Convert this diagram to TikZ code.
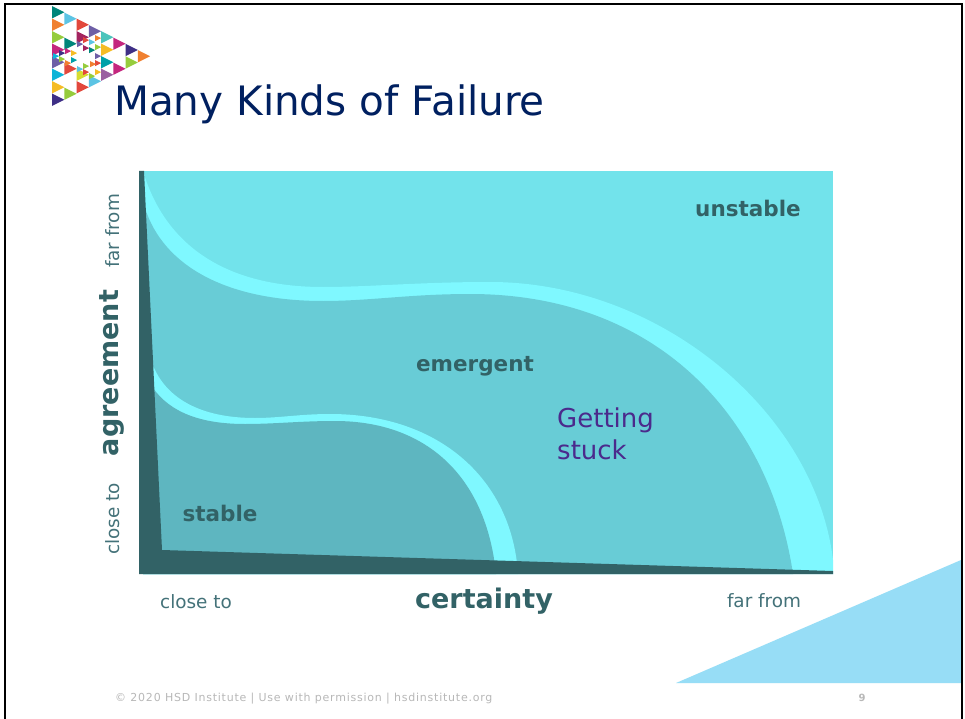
\documentclass[tikz,border=0pt]{standalone}
\usepackage{fontspec}
\setmainfont{DejaVu Sans}
\newfontfamily\footfont[LetterSpace=7]{DejaVu Sans}
\definecolor{navy}{HTML}{002060}
\definecolor{upperzone}{HTML}{72E3EB}
\definecolor{midzone}{HTML}{68CCD6}
\definecolor{lowzone}{HTML}{5EB6C0}
\definecolor{bandzone}{HTML}{7FF8FF}
\definecolor{axisdark}{HTML}{326266}
\definecolor{axislabel}{HTML}{447279}
\definecolor{stuck}{HTML}{4B2A8C}
\definecolor{corner}{HTML}{97DDF6}
\definecolor{footgrey}{HTML}{B8B8B8}
\definecolor{lgteal}{HTML}{00857A}
\definecolor{lgsky}{HTML}{5CC4E4}
\definecolor{lgorange}{HTML}{F08030}
\definecolor{lgred}{HTML}{E2483C}
\definecolor{lglime}{HTML}{96CC3C}
\definecolor{lgmagenta}{HTML}{C4267E}
\definecolor{lgcrimson}{HTML}{A3245F}
\definecolor{lgviolet}{HTML}{6E5FA6}
\definecolor{lgmauve}{HTML}{9A5FA0}
\definecolor{lgcyan}{HTML}{0DB4D8}
\definecolor{lgyellow}{HTML}{F5BC25}
\definecolor{lgindigo}{HTML}{3E2F86}
\definecolor{lgaqua}{HTML}{4CC4BC}
\definecolor{lgpea}{HTML}{D6DC30}
\definecolor{lgdeep}{HTML}{00A0A8}
\tikzset{
  zonelabel/.style={text=axisdark,font=\bfseries\fontsize{21.5}{25}\selectfont},
  axistitle/.style={text=axisdark,font=\bfseries\fontsize{27}{32}\selectfont},
  endlabel/.style={text=axislabel,font=\fontsize{18.4}{22}\selectfont},
}
\begin{document}
\begin{tikzpicture}[x=1pt,y=-1pt]
    \useasboundingbox (0,0) rectangle (965,719);
    \fill[white] (0,0) rectangle (965,719);
    % corner and frame
    \fill[corner] (676,683) -- (961,560) -- (961,683) -- cycle;
    \draw[line width=2.4pt] (4.8,719) -- (4.8,4) -- (961.8,4) -- (961.8,719);
    % logo, big triangles
    \foreach \x/\y/\c in {52/6/lgteal,52/18.5/lgorange,52/31/lglime,52/43.5/lgmagenta,52/56/lgviolet,52/68.5/lgcyan,52/81/lgyellow,52/93.5/lgindigo,
      64.25/12.5/lgsky,64.25/37.5/lgteal,64.25/62.5/lgred,64.25/87.5/lglime,
      76.5/18.5/lgred,76.5/31/lgcrimson,76.5/68.5/lgpea,76.5/81/lgred,
      88.75/25/lgviolet,88.75/75/lgsky,
      101/31/lgaqua,101/43.5/lgyellow,101/56/lgdeep,101/68.5/lgmauve,
      113.25/37.5/lgmagenta,113.25/62.5/lgmagenta,
      125.5/43.75/lgindigo,125.5/56.25/lglime,
      137.75/50/lgorange}
      \fill[\c] (\x,\y) -- ++(0,12.5) -- ++(12.25,-6.25) -- cycle;
    % logo, small triangles
    \foreach \x/\y/\c in {59/50/lgindigo,59/56/lglime,53/53/lgcyan,65/48/lgmagenta,65/60/lgorange,71/50/lgyellow,71/57/lgdeep,
      83/37/lgred,83/45/lgcrimson,77/41/lgviolet,95/35/lgorange,89/39/lgsky,95/44/lglime,89/47/lgteal,
      95/53/lgviolet,95/60/lgred,90/61/lgorange,83/63/lglime,83/69/lgred,77/66/lgsky,95/69/lgyellow,89/73/lglime}
      \fill[\c] (\x,\y) -- ++(0,6.25) -- ++(6.1,-3.1) -- cycle;
    % zones
    \fill[upperzone] (139,171) rectangle (833,574);
    \fill[bandzone] (143,171) .. controls (165,245) and (225,287) .. (323,287)
      .. controls (370,287) and (420,282) .. (490,282)
      .. controls (660,282) and (815,412) .. (833,560) -- (833,574) -- (143,574) -- cycle;
    \fill[midzone] (145,208) .. controls (163,265) and (225,301) .. (323,301)
      .. controls (370,301) and (410,294) .. (470,294)
      .. controls (660,294) and (770,420) .. (793,574) -- (143,574) -- cycle;
    \fill[bandzone] (152,363) .. controls (165,398) and (200,418) .. (255,418)
      .. controls (280,418) and (300,414) .. (330,414)
      .. controls (440,414) and (512,480) .. (518,574) -- (143,574) -- cycle;
    \fill[lowzone] (153,388) .. controls (170,412) and (200,424) .. (245,424)
      .. controls (275,424) and (300,421) .. (335,421)
      .. controls (425,421) and (486,475) .. (496,574) -- (143,574) -- cycle;
    % axes wedge
    \fill[axisdark] (139,171) -- (144,171) -- (162,550) -- (833,571) -- (833,574) -- (139,574) -- cycle;
    % texts
    \node[anchor=base west,inner sep=0pt,text=navy,font=\fontsize{40.5}{48}\selectfont] (title) at (114,116) {Many Kinds of Failure};
    \node[zonelabel] (unstable) at (748,208) {unstable};
    \node[zonelabel] (emergent) at (475,366) {emergent};
    \node[zonelabel] (stable) at (220,513) {stable};
    \node[anchor=west,inner sep=0pt,text=stuck,align=left,font=\fontsize{26}{32}\selectfont] (gettingstuck) at (557,434) {Getting\\stuck};
    \node[axistitle] (certainty) at (484,601) {certainty};
    \node[axistitle,rotate=90] (agreement) at (112,373) {agreement};
    \node[endlabel] (xclose) at (196,602) {close to};
    \node[endlabel] (xfar) at (764,601) {far from};
    \node[endlabel,rotate=90] (yclose) at (113,519) {close to};
    \node[endlabel,rotate=90] (yfar) at (113,231) {far from};
    \node[anchor=base west,inner sep=0pt,text=footgrey,font=\footfont\fontsize{11}{13}\selectfont] (footer) at (115,701) {© 2020 HSD Institute | Use with permission | hsdinstitute.org};
    \node[text=footgrey,font=\bfseries\fontsize{10}{12}\selectfont] (pagenum) at (862,698) {9};
\end{tikzpicture}
\end{document}
